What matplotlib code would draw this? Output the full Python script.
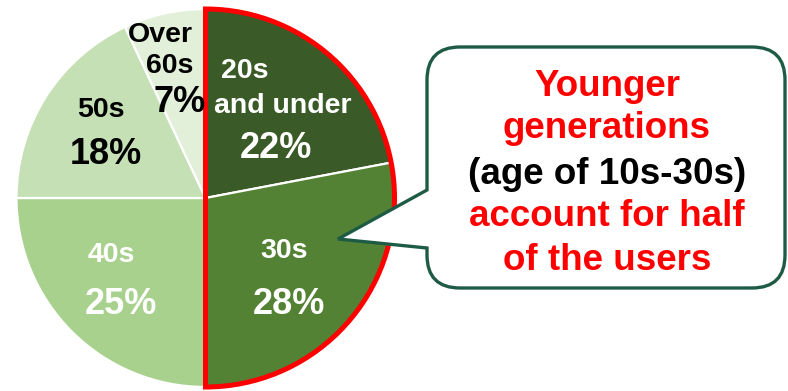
import matplotlib
matplotlib.use("Agg")
import matplotlib.pyplot as plt
from matplotlib.patches import Wedge, PathPatch
from matplotlib.path import Path

plt.rcParams['font.family'] = ['Liberation Sans', 'DejaVu Sans']

# ---- data ----
categories = ["20s\nand under", "30s", "40s", "50s", "Over\n60s"]
shares = [22, 28, 25, 18, 7]
pct_labels = ["22%", "28%", "25%", "18%", "7%"]
colors = ["#3a5a27", "#548235", "#a9d18e", "#c5e0b4", "#e2f0d9"]
label_colors = ["white", "white", "white", "black", "black"]
callout_lines = ["Younger", "generations", "(age of 10s-30s)", "account for half", "of the users"]
callout_colors = ["#ff0000", "#ff0000", "black", "#ff0000", "#ff0000"]

W, H = 788, 391
fig = plt.figure(figsize=(W / 100, H / 100), dpi=100)
ax = fig.add_axes([0, 0, 1, 1])

def py(y):
    return H - y

cx, cy, R = 205.5, py(198), 189
wedges, _ = ax.pie(shares, colors=colors, startangle=90, counterclock=False,
                   center=(cx, cy), radius=R,
                   wedgeprops=dict(edgecolor="white", linewidth=1.6))
ax.set_xlim(0, W)
ax.set_ylim(0, H)
ax.set_aspect('auto')
ax.axis('off')

# red outline around the younger half (20s and under + 30s)
t1 = wedges[1].theta1
t2 = wedges[0].theta2
ax.add_patch(Wedge((cx, cy), R, t1, t2, fill=False, edgecolor="#ff0000",
                   linewidth=3.6, zorder=5))

# labels (name, percent) at pixel positions
name_pos = [[(245, 68), (283, 103)], [(284, 248)], [(111, 252)], [(101, 107)],
            [(160, 32), (170, 63)]]
pct_pos = [(276, 145), (289, 300), (121, 300), (106, 151), (180, 99)]
for i, cat in enumerate(categories):
    for line, (x, y) in zip(cat.split("\n"), name_pos[i]):
        ax.text(x, py(y), line, ha="center", va="center_baseline", fontsize=20.5,
                fontweight="bold", color=label_colors[i], zorder=6)
    x, y = pct_pos[i]
    ax.text(x, py(y), pct_labels[i], ha="center", va="center_baseline", fontsize=26,
            fontweight="bold", color=label_colors[i], zorder=6)

# callout bubble
x0, x1 = 427, 785
top, bot = py(47), py(288)
r = 33
tip = (338, py(239))
pb_hi, pb_lo = py(190), py(248)
verts = [
    (x0 + r, top), (x1 - r, top),
    (x1, top), (x1, top - r),
    (x1, bot + r),
    (x1, bot), (x1 - r, bot),
    (x0 + r, bot),
    (x0, bot), (x0, bot + r),
    (x0, pb_lo), tip, (x0, pb_hi),
    (x0, top - r),
    (x0, top), (x0 + r, top),
    (x0 + r, top),
]
codes = [Path.MOVETO, Path.LINETO,
         Path.CURVE3, Path.CURVE3,
         Path.LINETO,
         Path.CURVE3, Path.CURVE3,
         Path.LINETO,
         Path.CURVE3, Path.CURVE3,
         Path.LINETO, Path.LINETO, Path.LINETO,
         Path.LINETO,
         Path.CURVE3, Path.CURVE3,
         Path.CLOSEPOLY]
ax.add_patch(PathPatch(Path(verts, codes), facecolor="white", edgecolor="#1e5b44",
                       linewidth=2.4, joinstyle="miter", zorder=7))

line_y = [82, 125, 170, 213, 257]
for txt, c, y in zip(callout_lines, callout_colors, line_y):
    ax.text(607, py(y), txt, ha="center", va="center_baseline", fontsize=26.5,
            fontweight="bold", color=c, zorder=8)

fig.savefig("out.png", dpi=100)
